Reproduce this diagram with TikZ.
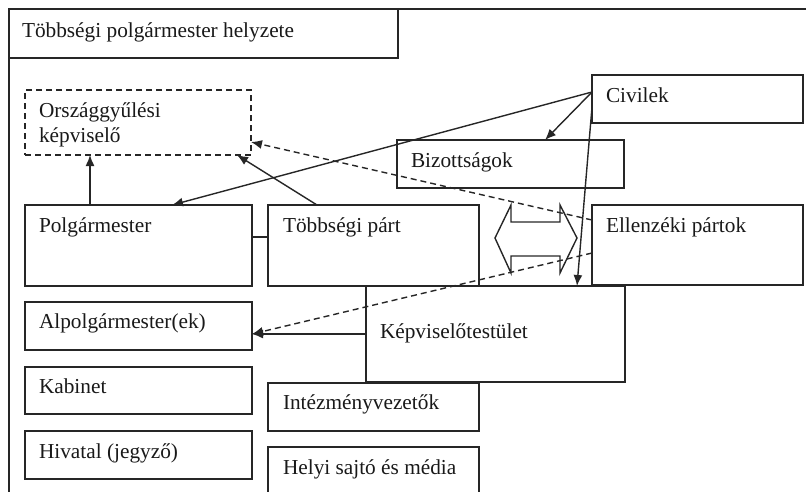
\documentclass[tikz,border=0pt]{standalone}
\usepackage{fontspec}
\setmainfont{Liberation Serif}
\usetikzlibrary{arrows.meta}
\tikzset{
  ln/.style={draw=black!85, line width=1.4pt},
  box/.style={ln, rectangle, anchor=north west, inner sep=0pt, outer sep=0pt},
  dbox/.style={box, dash pattern=on 6pt off 4pt},
  txt/.style={anchor=base west, inner sep=0pt, outer sep=0pt, font=\fontsize{21.3}{25}\selectfont, text=black!90},
  arr/.style={ln, -{Latex[length=11pt,width=9pt]}},
  darr/.style={arr, dash pattern=on 6pt off 4pt},
}
\begin{document}
\begin{tikzpicture}[x=1pt,y=-1pt]
\useasboundingbox (0,0) rectangle (807,491);
\clip (0,0) rectangle (807,491);
% outer frame
\coordinate (frTL) at (9,9);
\coordinate (frTR) at (806,9);
\coordinate (frBL) at (9,495);
\draw[ln] (frTR) -- (frTL) -- (frBL);
% boxes
\node[box, minimum width=389pt, minimum height=49pt] (title) at (9,9) {};
\node[dbox, minimum width=226pt, minimum height=65pt] (orsz) at (25,90) {};
\node[box, minimum width=211pt, minimum height=48pt] (civ) at (592,75) {};
\node[box, minimum width=227pt, minimum height=48pt] (biz) at (397,140) {};
\node[box, minimum width=227pt, minimum height=81pt] (polg) at (25,205) {};
\node[box, minimum width=211pt, minimum height=81pt] (tobb) at (268,205) {};
\node[box, minimum width=211pt, minimum height=80pt] (ell) at (592,205) {};
\node[box, minimum width=259pt, minimum height=96pt] (kep) at (366,286) {};
\node[box, minimum width=227pt, minimum height=48pt] (alp) at (25,302) {};
\node[box, minimum width=227pt, minimum height=47pt] (kab) at (25,367) {};
\node[box, minimum width=227pt, minimum height=48pt] (hiv) at (25,431) {};
\node[box, minimum width=211pt, minimum height=48pt] (int) at (268,383) {};
\node[box, minimum width=211pt, minimum height=60pt] (helyi) at (268,447) {};
% texts
\node[txt] (tTitle) at ([shift={(13,28)}]title.north west) {Többségi polgármester helyzete};
\node[txt] (tOrsz1) at ([shift={(14,27)}]orsz.north west) {Országgyűlési};
\node[txt] (tOrsz2) at ([shift={(14,52)}]orsz.north west) {képviselő};
\node[txt] (tCiv) at ([shift={(14,27)}]civ.north west) {Civilek};
\node[txt] (tBiz) at ([shift={(14,27)}]biz.north west) {Bizottságok};
\node[txt] (tPolg) at ([shift={(14,27)}]polg.north west) {Polgármester};
\node[txt] (tTobb) at ([shift={(15,27)}]tobb.north west) {Többségi párt};
\node[txt] (tEll) at ([shift={(14,27)}]ell.north west) {Ellenzéki pártok};
\node[txt] (tKep) at ([shift={(14,52)}]kep.north west) {Képviselőtestület};
\node[txt] (tAlp) at ([shift={(14,26)}]alp.north west) {Alpolgármester(ek)};
\node[txt] (tKab) at ([shift={(14,26)}]kab.north west) {Kabinet};
\node[txt] (tHiv) at ([shift={(14,27)}]hiv.north west) {Hivatal (jegyző)};
\node[txt] (tInt) at ([shift={(15,26)}]int.north west) {Intézményvezetők};
\node[txt] (tHelyi) at ([shift={(15,27)}]helyi.north west) {Helyi sajtó és média};
% double arrow between parties
\draw[ln, line join=miter] (495,238) -- (511,205) -- (511,222) -- (560,222) -- (560,205)
  -- (577,238) -- (560,273) -- (560,256) -- (511,256) -- (511,273) -- cycle;
% connectors
\draw[ln] ([shift={(0,32)}]polg.north east) -- ([shift={(0,32)}]tobb.north west);
\draw[arr] ([shift={(65,0)}]polg.north west) -- ([shift={(65,0)}]orsz.south west);
\draw[arr] ([shift={(49,0)}]tobb.north west) -- ([shift={(212,0)}]orsz.south west);
\draw[arr] ([shift={(0,17)}]civ.north west) -- ([shift={(147,0)}]polg.north west);
\draw[arr] ([shift={(0,17)}]civ.north west) -- ([shift={(148,0)}]biz.north west);
\draw[arr] ([shift={(0,32)}]civ.north west) -- ([shift={(211,0)}]kep.north west);
\draw[darr] ([shift={(0,15)}]ell.north west) -- ([shift={(0,52)}]orsz.north east);
\draw[darr] ([shift={(0,48)}]ell.north west) -- ([shift={(0,32)}]alp.north east);
\draw[arr] ([shift={(0,48)}]kep.north west) -- ([shift={(0,32)}]alp.north east);
\end{tikzpicture}
\end{document}
